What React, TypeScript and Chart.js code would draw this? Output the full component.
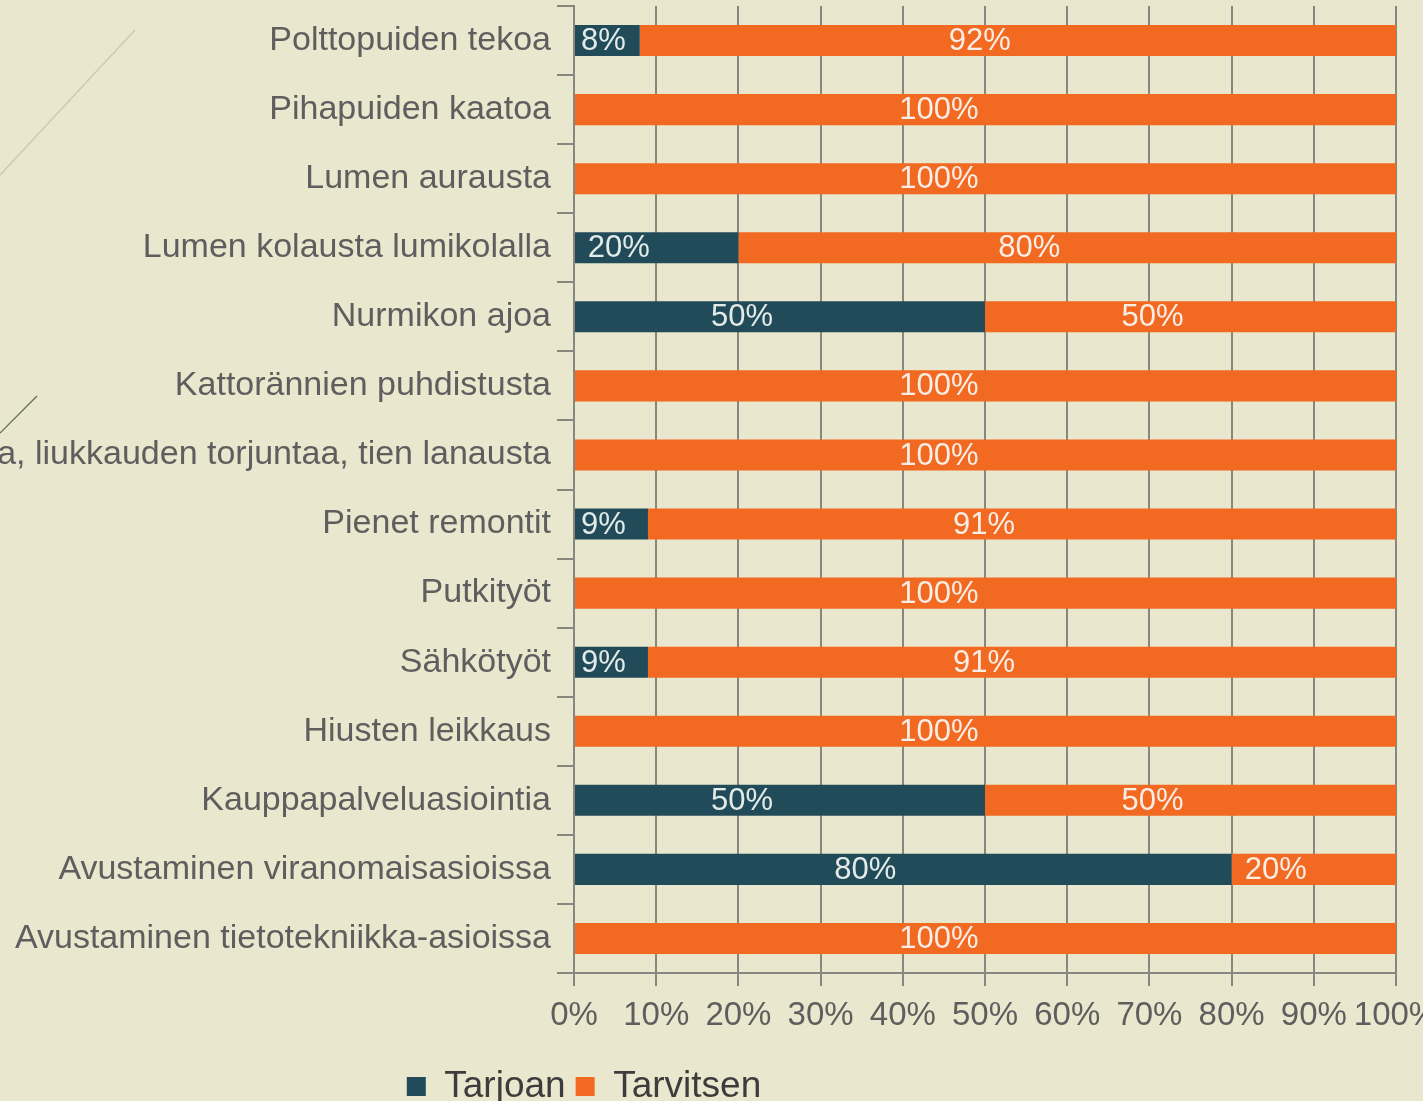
import React, { useEffect, useRef } from "react";
import { Chart, registerables } from "chart.js";

Chart.register(...registerables);

const categories: string[] = [
  "Polttopuiden tekoa",
  "Pihapuiden kaatoa",
  "Lumen aurausta",
  "Lumen kolausta lumikolalla",
  "Nurmikon ajoa",
  "Kattorännien puhdistusta",
  "a, liukkauden torjuntaa, tien lanausta",
  "Pienet remontit",
  "Putkityöt",
  "Sähkötyöt",
  "Hiusten leikkaus",
  "Kauppapalveluasiointia",
  "Avustaminen viranomaisasioissa",
  "Avustaminen tietotekniikka-asioissa",
];

const tarjoan: number[] = [8, 0, 0, 20, 50, 0, 0, 9, 0, 9, 0, 50, 80, 0];
const tarvitsen: number[] = [92, 100, 100, 80, 50, 100, 100, 91, 100, 91, 100, 50, 20, 100];

const seriesNames: string[] = ["Tarjoan", "Tarvitsen"];
const xTicks: number[] = [0, 10, 20, 30, 40, 50, 60, 70, 80, 90, 100];

const BG = "#e9e7cd";
const DARK = "#224b5a";
const ORANGE = "#f26922";
const GRID = "#878780";
const FONT = "'Liberation Sans', Arial, sans-serif";

const CANVAS_LEFT = -292;
const CANVAS_W = 1752;
const CANVAS_H = 1115;

const dataLabelPlugin = {
  id: "segLabels",
  afterDatasetsDraw(chart: any) {
    const ctx = chart.ctx;
    ctx.save();
    ctx.font = `31px ${FONT}`;
    ctx.textAlign = "right";
    ctx.textBaseline = "middle";
    chart.data.datasets.forEach((ds: any, di: number) => {
      const meta = chart.getDatasetMeta(di);
      meta.data.forEach((bar: any, i: number) => {
        const v = ds.data[i];
        if (!v) return;
        const txt = `${v}%`;
        const w = ctx.measureText(txt).width;
        const left = Math.min(bar.x, bar.base);
        let rx = (bar.x + bar.base) / 2 - 7;
        if (rx - w < left + 6) rx = left + 6 + w;
        ctx.fillStyle = di === 0 ? "#e3ebe8" : "#f8eee6";
        ctx.fillText(txt, rx, bar.y + 1);
      });
    });
    ctx.restore();
  },
};

export default function App() {
  const ref = useRef<HTMLCanvasElement | null>(null);

  useEffect(() => {
    if (!ref.current) return;
    const chart = new Chart(ref.current, {
      type: "bar",
      data: {
        labels: categories,
        datasets: [
          {
            label: seriesNames[0],
            data: tarjoan,
            backgroundColor: DARK,
            borderWidth: 0,
            barPercentage: 0.45,
            categoryPercentage: 1,
          },
          {
            label: seriesNames[1],
            data: tarvitsen,
            backgroundColor: ORANGE,
            borderWidth: 0,
            barPercentage: 0.45,
            categoryPercentage: 1,
          },
        ],
      },
      options: {
        indexAxis: "y",
        responsive: false,
        animation: false,
        devicePixelRatio: 1,
        layout: { padding: { left: 64, right: 64, top: 6, bottom: 0 } },
        scales: {
          x: {
            stacked: true,
            min: 0,
            max: 100,
            afterBuildTicks(scale: any) {
              scale.ticks = xTicks.map((v) => ({ value: v }));
            },
            afterFit(scale: any) {
              scale.height = 85;
            },
            ticks: {
              stepSize: 10,
              padding: 10,
              color: "#5e5e5e",
              font: { family: FONT, size: 33 },
              maxRotation: 0,
              autoSkip: false,
              callback: (v: any) => `${v}%`,
            },
            grid: {
              color: GRID,
              lineWidth: 2,
              tickLength: 13,
              drawOnChartArea: true,
              drawTicks: true,
            },
            border: { color: GRID, width: 2 },
          },
          y: {
            stacked: true,
            afterFit(scale: any) {
              scale.width = 802;
              scale.paddingTop = 0;
              scale.paddingBottom = 0;
            },
            ticks: {
              padding: 6,
              color: "#5e5e5e",
              font: { family: FONT, size: 34 },
              autoSkip: false,
            },
            grid: {
              color: GRID,
              lineWidth: 2,
              tickLength: 17,
              drawOnChartArea: false,
              drawTicks: true,
              offset: true,
            },
            border: { color: GRID, width: 2 },
          },
        },
        plugins: {
          legend: {
            position: "bottom",
            align: "center",
            labels: {
              boxWidth: 19,
              boxHeight: 19,
              padding: 10,
              color: "#3c3c3c",
              font: { family: FONT, size: 37 },
            },
          },
          tooltip: { enabled: false },
        },
      },
      plugins: [dataLabelPlugin],
    } as any);
    return () => chart.destroy();
  }, []);

  return (
    <div
      style={{
        position: "fixed",
        left: 0,
        top: 0,
        width: 1423,
        height: 1101,
        overflow: "hidden",
        background: BG,
      }}
    >
      <svg
        width={1423}
        height={1101}
        style={{ position: "absolute", left: 0, top: 0 }}
      >
        <line x1={0} y1={175} x2={135} y2={30} stroke="#cbcab2" strokeWidth={1.5} />
        <line x1={0} y1={433} x2={37} y2={396} stroke="#5f6c55" strokeWidth={1.2} />
      </svg>
      <canvas
        ref={ref}
        width={CANVAS_W}
        height={CANVAS_H}
        style={{
          position: "absolute",
          left: CANVAS_LEFT,
          top: 0,
          width: CANVAS_W,
          height: CANVAS_H,
        }}
      />
    </div>
  );
}
